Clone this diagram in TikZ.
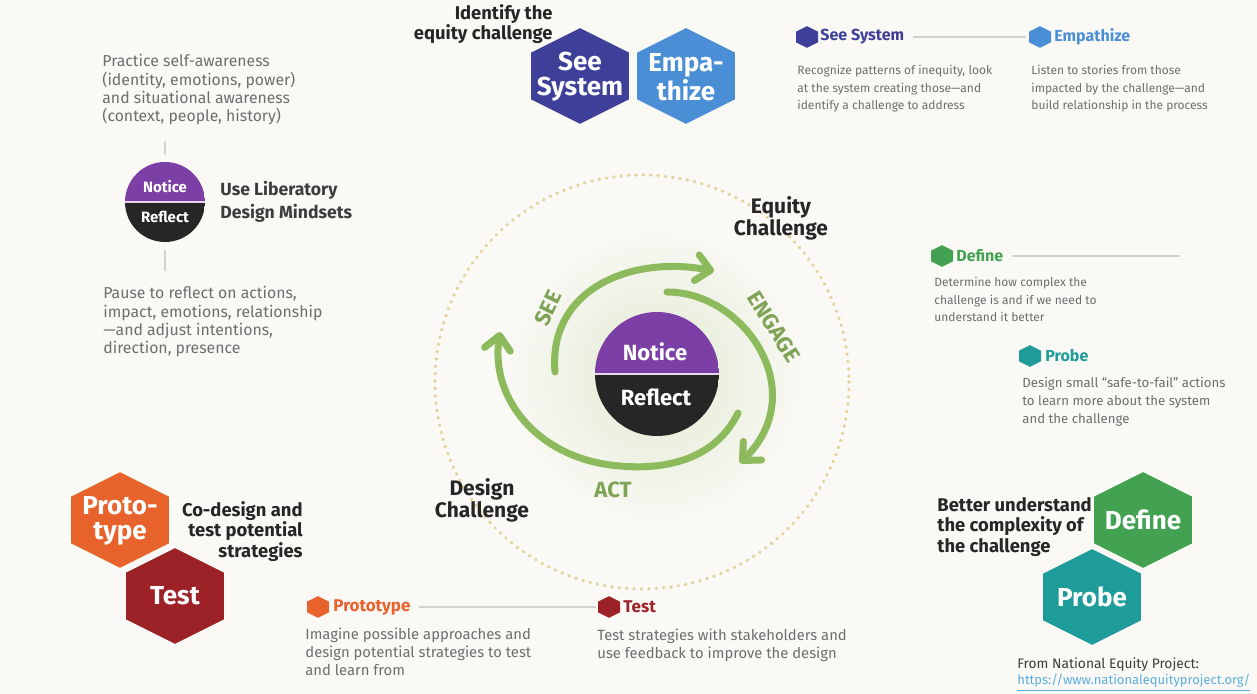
\documentclass[tikz,border=0pt]{standalone}
\usepackage{fontspec}
\setmainfont{Fira Sans}
\usetikzlibrary{arrows.meta}

\definecolor{paper}{HTML}{FBF9F6}
\definecolor{seeblue}{HTML}{3E3F99}
\definecolor{empblue}{HTML}{4A8ED6}
\definecolor{noticepurple}{HTML}{7B3FA6}
\definecolor{reflectdark}{HTML}{262626}
\definecolor{lilac}{HTML}{E6D6F0}
\definecolor{loopgreen}{HTML}{8DBA5C}
\definecolor{looptext}{HTML}{7FA356}
\definecolor{glowgreen}{HTML}{E0EAD0}
\definecolor{definegreen}{HTML}{42A252}
\definecolor{probeteal}{HTML}{1E9C99}
\definecolor{protoorange}{HTML}{E8622C}
\definecolor{testred}{HTML}{9C2227}
\definecolor{bodygray}{HTML}{6E6E6E}
\definecolor{headgray}{HTML}{3C3C3C}
\definecolor{ringtan}{HTML}{E2D49C}
\definecolor{rulegray}{HTML}{D2D2D2}
\definecolor{linkblue}{HTML}{5AAEE0}

\tikzset{
  hexa/.pic={\path[pic actions] (0,-49) -- (50,-24) -- (50,24) -- (0,49) -- (-50,24) -- (-50,-24) -- cycle;}
}

\begin{document}
\begin{tikzpicture}[x=0.5pt, y=-0.5pt,
    hex_style/.style={draw=paper, line width=0.9pt},
    icon_style/.style={scale=0.22},
    hexlabel_style/.style={text=white, align=center, inner sep=0pt, font=\fontsize{13}{12.5}\selectfont\bfseries},
    head_style/.style={anchor=west, inner sep=0pt, font=\fontsize{8}{9}\selectfont\bfseries},
    body_style/.style={anchor=north west, align=left, inner sep=0pt, text=bodygray, font=\fontsize{6}{8.8}\selectfont},
    bodylarge_style/.style={anchor=north west, align=left, inner sep=0pt, text=bodygray, font=\fontsize{7.4}{9}\selectfont},
    caption_style/.style={inner sep=0pt, text=black!85, font=\fontsize{9.2}{10.2}\selectfont\bfseries},
    rule_style/.style={draw=rulegray, line width=0.6pt},
    mind_style/.style={circle, inner sep=0pt, minimum size=#1, path picture={
        \fill[noticepurple] (path picture bounding box.north west) rectangle (path picture bounding box.east);
        \fill[reflectdark] (path picture bounding box.west) rectangle (path picture bounding box.south east);
        \draw[lilac, line width=1.2pt] (path picture bounding box.west) -- (path picture bounding box.east);}},
    mindtext_style/.style={text=white, inner sep=0pt, font=\bfseries},
    loop_style/.style={draw=loopgreen, line width=3.5pt, line cap=round, -{Straight Barb[length=7pt, width=13pt, round]}},
    looplabel_style/.style={text=looptext, inner sep=0pt, font=\fontsize{11}{11}\selectfont\bfseries}]

	\fill[paper] (0,0) rectangle (1257,694);
	\useasboundingbox (0,0) rectangle (1257,694);

	% top: see system and empathize
	\node[caption_style, anchor=north east, align=right] (identify) at (553,4) {Identify the\\equity challenge};
	\pic[hex_style, fill=seeblue] at (580,76) {hexa};
	\pic[hex_style, fill=empblue] at (686,76) {hexa};
	\node[hexlabel_style] (see) at (580,77) {See\\System};
	\node[hexlabel_style] (emp) at (686,77) {Empa-\\thize};

	\pic[icon_style, fill=seeblue] at (807,37) {hexa};
	\node[head_style, text=seeblue] (seehead) at (820,37) {See System};
	\pic[icon_style, fill=empblue] at (1040,37) {hexa};
	\node[head_style, text=empblue] (emphead) at (1054,37) {Empathize};
	\coordinate (empicon) at (1026,37);
	\draw[rule_style] ([xshift=4pt]seehead.east) -- (empicon);
	\node[body_style] (seetext) at (797,65) {Recognize patterns of inequity, look\\at the system creating those—and\\identify a challenge to address};
	\node[body_style] (emptext) at (1031,65) {Listen to stories from those\\impacted by the challenge—and\\build relationship in the process};

	% left: mindsets
	\node[bodylarge_style, font=\fontsize{7.9}{9.2}\selectfont] (practice) at (102,54) {Practice self-awareness\\(identity, emotions, power)\\and situational awareness\\(context, people, history)};
	\node[mind_style=40pt] (mind) at (165,202) {};
	\node[mindtext_style, font=\fontsize{7.5}{7.5}\selectfont\bfseries] (mindn) at (165,187) {Notice};
	\node[mindtext_style, font=\fontsize{7.5}{7.5}\selectfont\bfseries] (mindr) at (165,217) {Reflect};
	\node[head_style, text=headgray, align=left, font=\fontsize{8.8}{11.5}\selectfont\bfseries] (uselib) at (220,202) {Use Liberatory\\Design Mindsets};
	\node[bodylarge_style, font=\fontsize{7.9}{9.2}\selectfont] (pause) at (103,286) {Pause to reflect on actions,\\impact, emotions, relationship\\—and adjust intentions,\\direction, presence};
	\draw[rule_style, shorten <=3.5pt, shorten >=7.5pt] (mind.north) -- (mind.north |- practice.south);
	\draw[rule_style, shorten <=4pt, shorten >=7.5pt] (mind.south) -- (mind.south |- pause.north);

	% centre: loop
	\coordinate (hub) at (642,382);
	\coordinate (mid) at (656,376);
	\shade[inner color=glowgreen, outer color=paper] (mid) circle (155);
	\draw[ringtan, line width=1.8pt, line cap=round, dash pattern=on 0.1pt off 3.6pt] (hub) circle (207);

	\coordinate (see_a) at (555,372);
	\coordinate (see_b) at (714,271);
	\coordinate (eng_a) at (667,292);
	\coordinate (eng_b) at (740,463);
	\coordinate (act_a) at (738,413);
	\coordinate (act_m) at (620,466);
	\coordinate (act_b) at (500,332);
	\draw[loop_style] (see_a) .. controls (548,290) and (630,255) .. (see_b);
	\draw[loop_style] (eng_a) .. controls (745,292) and (812,392) .. (eng_b);
	\draw[loop_style] (act_a) .. controls (715,460) and (665,470) .. (act_m)
	                          .. controls (540,460) and (490,400) .. (act_b);

	\node[looplabel_style, rotate=64] (seelbl) at (548,308) {SEE};
	\node[looplabel_style, rotate=-58] (englbl) at (774,327) {ENGAGE};
	\node[looplabel_style] (actlbl) at (613,490) {ACT};

	\node[mind_style=62pt] (core) at (657,374) {};
	\node[mindtext_style, font=\fontsize{11}{11}\selectfont\bfseries] (coren) at (655,352) {Notice};
	\node[mindtext_style, font=\fontsize{11}{11}\selectfont\bfseries] (corer) at (656,397) {Reflect};

	\node[caption_style, align=center, font=\fontsize{10.5}{11}\selectfont\bfseries] (equity) at (781,218) {Equity\\Challenge};
	\node[caption_style, align=center, font=\fontsize{10.5}{11}\selectfont\bfseries] (design) at (482,500) {Design\\Challenge};

	% right: define and probe
	\pic[icon_style, fill=definegreen] at (942,256) {hexa};
	\node[head_style, text=definegreen] (defhead) at (956,256) {Define};
	\coordinate (defend) at (1180,256);
	\draw[rule_style] ([xshift=4pt]defhead.east) -- (defend);
	\node[body_style] (deftext) at (934,277) {Determine how complex the\\challenge is and if we need to\\understand it better};
	\pic[icon_style, fill=probeteal] at (1030,356) {hexa};
	\node[head_style, text=probeteal] (probehead) at (1045,356) {Probe};
	\node[body_style, font=\fontsize{6.6}{9}\selectfont] (probetext) at (1022,377) {Design small “safe-to-fail” actions\\to learn more about the system\\and the challenge};

	% bottom left: prototype and test
	\pic[hex_style, fill=protoorange] at (120,520) {hexa};
	\pic[hex_style, fill=testred] at (175,596) {hexa};
	\node[hexlabel_style] (proto) at (120,521) {Proto-\\type};
	\node[hexlabel_style] (test) at (175,596) {Test};
	\node[caption_style, anchor=north east, align=right] (codesign) at (303,501) {Co-design and\\test potential\\strategies};

	% bottom middle
	\pic[icon_style, fill=protoorange] at (318,607) {hexa};
	\node[head_style, text=protoorange, font=\fontsize{8.5}{9}\selectfont\bfseries] (protohead) at (333,607) {Prototype};
	\pic[icon_style, fill=testred] at (609,607) {hexa};
	\node[head_style, text=testred, font=\fontsize{8.5}{9}\selectfont\bfseries] (testhead) at (623,607) {Test};
	\coordinate (testicon) at (596,607);
	\draw[rule_style] ([xshift=4pt]protohead.east) -- (testicon);
	\node[bodylarge_style] (prototext) at (305,628) {Imagine possible approaches and\\design potential strategies to test\\and learn from};
	\node[bodylarge_style] (testtext) at (597,629) {Test strategies with stakeholders and\\use feedback to improve the design};

	% bottom right: define and probe hexagons
	\pic[hex_style, fill=definegreen] at (1143,520) {hexa};
	\pic[hex_style, fill=probeteal] at (1092,597) {hexa};
	\node[hexlabel_style] (def) at (1143,520) {Define};
	\node[hexlabel_style] (probe) at (1092,597) {Probe};
	\node[caption_style, anchor=north west, align=left] (better) at (937,497) {Better understand\\the complexity of\\the challenge};

	\node[anchor=west, inner sep=0pt, text=headgray, font=\fontsize{6.9}{7}\selectfont] (source) at (1017,665) {From National Equity Project:};
	\node[anchor=west, inner sep=0pt, text=linkblue, font=\fontsize{6.5}{7}\selectfont] (link) at (1017,683) {\underline{https://www.nationalequityproject.org/}};

\end{tikzpicture}
\end{document}
